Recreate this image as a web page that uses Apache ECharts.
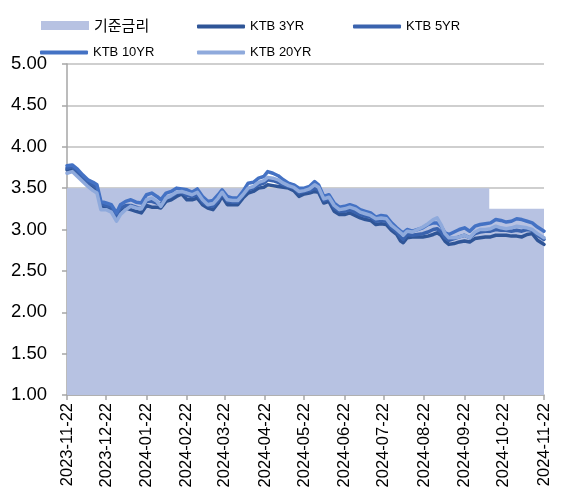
<!DOCTYPE html>
<html>
<head>
    <meta charset="utf-8">
    <title>KTB yields vs base rate</title>
    <script src="https://cdn.jsdelivr.net/npm/echarts@6/dist/echarts.min.js"></script>
    <style>
        html, body { margin: 0; padding: 0; background: #fff; }
        #main { width: 573px; height: 494px; }
    </style>
</head>
<body>
<div id="main"></div>
<script>
    // sample dates (roughly every 4 days)
    var dates = [
        '2023-11-22', '2023-11-26', '2023-11-30', '2023-12-04', '2023-12-08', '2023-12-12', '2023-12-15', '2023-12-18',
        '2023-12-22', '2023-12-26', '2023-12-30', '2024-01-02', '2024-01-06', '2024-01-10', '2024-01-14', '2024-01-18',
        '2024-01-22', '2024-01-26', '2024-01-30', '2024-02-02', '2024-02-06', '2024-02-10', '2024-02-14', '2024-02-18',
        '2024-02-22', '2024-02-26', '2024-03-01', '2024-03-05', '2024-03-09', '2024-03-13', '2024-03-17', '2024-03-20',
        '2024-03-24', '2024-03-28', '2024-04-01', '2024-04-05', '2024-04-09', '2024-04-13', '2024-04-17', '2024-04-21',
        '2024-04-24', '2024-04-28', '2024-05-02', '2024-05-06', '2024-05-10', '2024-05-14', '2024-05-18', '2024-05-22',
        '2024-05-26', '2024-05-30', '2024-06-02', '2024-06-06', '2024-06-10', '2024-06-14', '2024-06-18', '2024-06-22',
        '2024-06-26', '2024-06-30', '2024-07-04', '2024-07-08', '2024-07-12', '2024-07-16', '2024-07-20', '2024-07-24',
        '2024-07-28', '2024-08-01', '2024-08-04', '2024-08-06', '2024-08-09', '2024-08-13', '2024-08-17', '2024-08-21',
        '2024-08-25', '2024-08-29', '2024-09-01', '2024-09-04', '2024-09-07', '2024-09-10', '2024-09-14', '2024-09-18',
        '2024-09-22', '2024-09-26', '2024-09-30', '2024-10-04', '2024-10-08', '2024-10-12', '2024-10-16', '2024-10-20',
        '2024-10-24', '2024-10-28', '2024-11-01', '2024-11-05', '2024-11-09', '2024-11-13', '2024-11-17', '2024-11-20',
        '2024-11-22'
    ];

    var ktb3 = [
        3.72, 3.73, 3.68, 3.61, 3.55, 3.52, 3.48, 3.29,
        3.27, 3.25, 3.15, 3.24, 3.26, 3.24, 3.22, 3.20,
        3.29, 3.27, 3.27, 3.26, 3.34, 3.36, 3.40, 3.43,
        3.36, 3.36, 3.38, 3.30, 3.26, 3.24, 3.32, 3.40,
        3.30, 3.30, 3.30, 3.38, 3.44, 3.46, 3.50, 3.51,
        3.54, 3.53, 3.52, 3.51, 3.50, 3.47, 3.40, 3.43,
        3.44, 3.46, 3.45, 3.32, 3.34, 3.22, 3.18, 3.18,
        3.20, 3.17, 3.14, 3.12, 3.11, 3.06, 3.07, 3.06,
        2.99, 2.94, 2.86, 2.84, 2.90, 2.91, 2.91, 2.91,
        2.92, 2.94, 2.96, 2.93, 2.86, 2.82, 2.83, 2.85,
        2.86, 2.85, 2.89, 2.90, 2.91, 2.91, 2.93, 2.93,
        2.93, 2.92, 2.92, 2.91, 2.94, 2.95, 2.87, 2.84,
        2.82
    ];

    var ktb5 = [
        3.74, 3.76, 3.70, 3.63, 3.57, 3.54, 3.50, 3.31,
        3.29, 3.27, 3.17, 3.26, 3.29, 3.29, 3.27, 3.25,
        3.34, 3.34, 3.32, 3.30, 3.38, 3.40, 3.44, 3.45,
        3.41, 3.40, 3.42, 3.33, 3.29, 3.28, 3.35, 3.43,
        3.34, 3.33, 3.33, 3.41, 3.48, 3.50, 3.54, 3.56,
        3.60, 3.59, 3.57, 3.54, 3.52, 3.50, 3.44, 3.46,
        3.47, 3.50, 3.48, 3.35, 3.37, 3.26, 3.22, 3.22,
        3.24, 3.21, 3.18, 3.16, 3.15, 3.10, 3.11, 3.10,
        3.02, 2.97, 2.91, 2.88, 2.94, 2.93, 2.94, 2.95,
        2.97, 3.00, 3.01, 2.97, 2.90, 2.87, 2.89, 2.91,
        2.93, 2.90, 2.95, 2.97, 2.98, 2.98, 3.00, 2.99,
        2.99, 2.98, 2.99, 2.98, 3.00, 2.99, 2.93, 2.90,
        2.88
    ];

    var ktb10 = [
        3.77, 3.78, 3.73, 3.66, 3.60, 3.57, 3.54, 3.34,
        3.32, 3.30, 3.20, 3.30, 3.34, 3.36, 3.33, 3.32,
        3.42, 3.44, 3.40, 3.36, 3.44, 3.46, 3.50, 3.49,
        3.48, 3.45, 3.49, 3.40, 3.34, 3.35, 3.42, 3.48,
        3.40, 3.38, 3.38, 3.46, 3.56, 3.57, 3.62, 3.64,
        3.70, 3.68, 3.65, 3.60, 3.56, 3.54, 3.50, 3.50,
        3.52, 3.58, 3.54, 3.40, 3.42, 3.32, 3.27, 3.28,
        3.30, 3.28, 3.24, 3.22, 3.20, 3.15, 3.17, 3.16,
        3.08, 3.02, 2.98, 2.96, 3.00, 2.98, 3.00, 3.02,
        3.06, 3.08, 3.08, 3.04, 2.96, 2.94, 2.97, 3.00,
        3.02, 2.98, 3.04, 3.06, 3.07, 3.08, 3.12, 3.11,
        3.09, 3.10, 3.13, 3.12, 3.10, 3.08, 3.03, 3.00,
        2.98
    ];

    var ktb20 = [
        3.68, 3.70, 3.64, 3.58, 3.52, 3.47, 3.44, 3.24,
        3.24, 3.21, 3.10, 3.18, 3.24, 3.28, 3.26, 3.25,
        3.36, 3.38, 3.34, 3.28, 3.38, 3.41, 3.45, 3.46,
        3.44, 3.42, 3.45, 3.36, 3.30, 3.31, 3.38, 3.45,
        3.36, 3.35, 3.35, 3.42, 3.50, 3.52, 3.57, 3.59,
        3.63, 3.62, 3.60, 3.56, 3.53, 3.51, 3.46, 3.47,
        3.49, 3.54, 3.51, 3.37, 3.39, 3.29, 3.24, 3.25,
        3.27, 3.25, 3.21, 3.19, 3.17, 3.13, 3.14, 3.13,
        3.05, 3.00, 2.96, 2.93, 2.98, 2.97, 3.00, 3.03,
        3.07, 3.12, 3.14, 3.06, 2.95, 2.90, 2.90, 2.91,
        2.93, 2.90, 2.97, 3.00, 3.00, 3.01, 3.04, 3.02,
        3.01, 3.02, 3.04, 3.03, 3.02, 3.00, 2.95, 2.92,
        2.90
    ];

    // base rate: date it took effect, rate
    var baseRateDates = ['2023-11-22', '2024-10-11', '2024-11-22'];
    var baseRate = [3.50, 3.25, 3.25];

    var monthTicks = [
        '2023-11-22', '2023-12-22', '2024-01-22', '2024-02-22', '2024-03-22', '2024-04-22', '2024-05-22',
        '2024-06-22', '2024-07-22', '2024-08-22', '2024-09-22', '2024-10-22', '2024-11-22'
    ];

    var seriesNames = ['기준금리', 'KTB 3YR', 'KTB 5YR', 'KTB 10YR', 'KTB 20YR'];
    var colors = ['#B7C2E2', '#2F5597', '#3A63AE', '#4472C4', '#8FAADC'];

    function toTime(s) {
        return echarts.number.parseDate(s).getTime();
    }

    function pairs(xs, ys) {
        var out = [];
        for (var i = 0; i < xs.length; i++) {
            out.push([toTime(xs[i]), ys[i]]);
        }
        return out;
    }

    var tickTimes = monthTicks.map(toTime);
    var font = 'Liberation Sans';

    function lineSeries(name, values, color) {
        return {
            name: name,
            type: 'line',
            data: pairs(dates, values),
            showSymbol: false,
            symbol: 'none',
            lineStyle: { color: color, width: 3.5, join: 'round', cap: 'round' },
            itemStyle: { color: color }
        };
    }

    function legendAt(name, left, top, isArea) {
        return {
            data: [name],
            left: left,
            top: top,
            icon: isArea ? 'rect' : 'roundRect',
            itemWidth: 48,
            itemHeight: isArea ? 9 : 4,
            itemGap: 0,
            textStyle: {
                color: '#000',
                fontFamily: isArea ? 'Noto Sans CJK KR' : font,
                fontSize: isArea ? 15 : 13
            }
        };
    }

    var myChart = echarts.init(document.getElementById('main'), null, { renderer: 'canvas' });

    var option = {
        animation: false,
        backgroundColor: '#fff',
        color: colors,
        legend: [
            legendAt(seriesNames[0], 36, 13, true),
            legendAt(seriesNames[1], 192, 15),
            legendAt(seriesNames[2], 348, 15),
            legendAt(seriesNames[3], 35, 41),
            legendAt(seriesNames[4], 192, 41)
        ],
        grid: { left: 67, right: 29, top: 64, bottom: 99 },
        xAxis: {
            type: 'value',
            min: tickTimes[0],
            max: tickTimes[tickTimes.length - 1],
            axisLine: { show: true, lineStyle: { color: '#A6A6A6', width: 1.5 } },
            axisTick: {
                show: true,
                length: 5,
                customValues: tickTimes,
                lineStyle: { color: '#A6A6A6', width: 1.5 }
            },
            splitLine: { show: false },
            axisLabel: {
                customValues: tickTimes,
                rotate: 90,
                margin: 8,
                color: '#000',
                fontFamily: font,
                fontSize: 16.5,
                formatter: function (v) {
                    return echarts.time.format(v, '{yyyy}-{MM}-{dd}', false);
                }
            }
        },
        yAxis: {
            type: 'value',
            min: 1,
            max: 5,
            interval: 0.5,
            axisLine: { show: true, lineStyle: { color: '#A6A6A6', width: 1.5 } },
            axisTick: { show: true, length: 5, lineStyle: { color: '#A6A6A6', width: 1.5 } },
            splitLine: { show: true, lineStyle: { color: '#BFBFBF', width: 1.5 } },
            axisLabel: {
                margin: 20,
                color: '#000',
                fontFamily: font,
                fontSize: 18.5,
                formatter: function (v) { return v.toFixed(2); }
            }
        },
        series: [
            {
                name: seriesNames[0],
                type: 'line',
                step: 'end',
                data: pairs(baseRateDates, baseRate),
                showSymbol: false,
                symbol: 'none',
                lineStyle: { width: 0 },
                itemStyle: { color: colors[0] },
                areaStyle: { color: colors[0], opacity: 1 }
            },
            lineSeries(seriesNames[1], ktb3, colors[1]),
            lineSeries(seriesNames[2], ktb5, colors[2]),
            lineSeries(seriesNames[3], ktb10, colors[3]),
            lineSeries(seriesNames[4], ktb20, colors[4])
        ]
    };

    myChart.setOption(option);
</script>
</body>
</html>
